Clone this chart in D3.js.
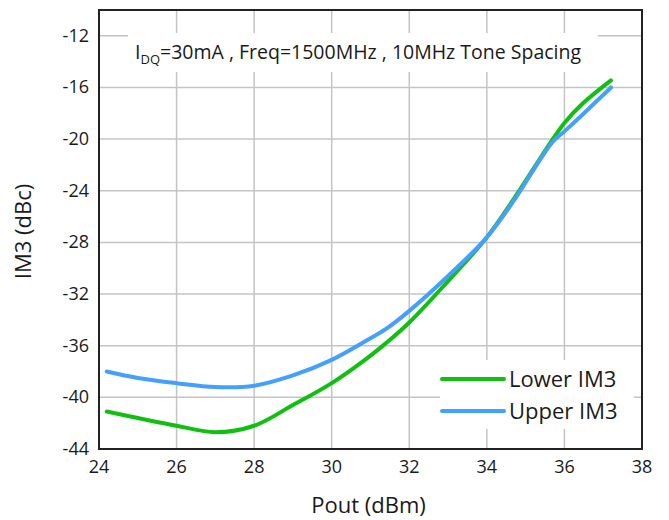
<!DOCTYPE html>
<html>
<head>
<meta charset="utf-8">
<script src="https://cdn.jsdelivr.net/npm/d3@7"></script>
<style>
	body { margin: 0; background: #fff; }
	svg { display: block; font-family: 'Open Sans', 'Noto Sans', sans-serif; }
	.grid line { stroke: #c4c4c4; stroke-width: 1.5; }
	.tick-label { font-size: 18px; fill: #1a1a1a; }
	.axis-title { font-size: 22px; fill: #1a1a1a; }
</style>
</head>
<body>
<svg id="chart" width="669" height="520"></svg>
<script>
// Pout (dBm) sample points
const pout = [24.2, 25, 26, 27, 28, 29, 30, 30.9, 31.4, 32, 33, 34, 34.7, 35.2, 35.7, 36, 36.45, 37.2];
const lowerIM3 = [-41.1, -41.6, -42.2, -42.7, -42.2, -40.6, -38.9, -37.0, -35.8, -34.2, -31.0, -27.6, -24.6, -22.3, -20.0, -18.75, -17.3, -15.45];
const upperIM3 = [-38.0, -38.5, -38.9, -39.2, -39.1, -38.3, -37.1, -35.6, -34.7, -33.3, -30.6, -27.6, -24.75, -22.4, -20.2, -19.4, -18.15, -16.0];

const xTicks = [24, 26, 28, 30, 32, 34, 36, 38];
const yTicks = [-12, -16, -20, -24, -28, -32, -36, -40, -44];

const series = [
	{ name: 'Lower IM3', color: '#10c010', values: lowerIM3 },
	{ name: 'Upper IM3', color: '#44a0ff', values: upperIM3 },
];

const svg = d3.select('#chart');
const plot = { left: 99, right: 642, top: 10, bottom: 449 };

const x = d3.scaleLinear().domain([24, 38]).range([plot.left, plot.right]);
const y = d3.scaleLinear().domain([-44, -10]).range([plot.bottom, plot.top]);

// Grid
const grid = svg.append('g').attr('class', 'grid');
grid.selectAll('line.v').data(xTicks.slice(1, -1)).enter().append('line')
	.attr('x1', d => x(d)).attr('x2', d => x(d))
	.attr('y1', plot.top).attr('y2', plot.bottom);
grid.selectAll('line.h').data(yTicks.slice(0, -1)).enter().append('line')
	.attr('x1', plot.left).attr('x2', plot.right)
	.attr('y1', d => y(d)).attr('y2', d => y(d));

// Tick labels
svg.append('g').selectAll('text').data(yTicks).enter().append('text')
	.attr('class', 'tick-label')
	.attr('x', plot.left - 10).attr('y', d => y(d) + 6)
	.attr('text-anchor', 'end')
	.text(d => d);
svg.append('g').selectAll('text').data(xTicks).enter().append('text')
	.attr('class', 'tick-label')
	.attr('x', d => x(d)).attr('y', plot.bottom + 24)
	.attr('text-anchor', 'middle')
	.text(d => d);

// Title box (hides grid behind it)
svg.append('rect').attr('x', 128).attr('y', 33).attr('width', 470).attr('height', 39).attr('fill', '#fff');
const title = svg.append('text').attr('x', 135).attr('y', 59)
	.attr('font-size', 19.5).attr('fill', '#1a1a1a');
title.append('tspan').text('I');
title.append('tspan').attr('font-size', 13).attr('dy', 5).text('DQ');
title.append('tspan').attr('dy', -5).text('=30mA , Freq=1500MHz , 10MHz Tone Spacing');

// Curves
const line = d3.line()
	.x(d => x(d[0]))
	.y(d => y(d[1]))
	.curve(d3.curveCatmullRom.alpha(0.5));

svg.append('g').selectAll('path').data(series).enter().append('path')
	.attr('d', s => line(pout.map((p, i) => [p, s.values[i]])))
	.attr('fill', 'none')
	.attr('stroke', s => s.color)
	.attr('stroke-width', 4)
	.attr('stroke-linecap', 'round')
	.attr('stroke-linejoin', 'round');

// Legend
const legend = svg.append('g');
legend.append('rect').attr('x', 440).attr('y', 360).attr('width', 194).attr('height', 69).attr('fill', '#fff');
series.forEach((s, i) => {
	const ly = 379 + i * 32;
	legend.append('line')
		.attr('x1', 442).attr('x2', 504).attr('y1', ly).attr('y2', ly)
		.attr('stroke', s.color).attr('stroke-width', 4).attr('stroke-linecap', 'round');
	legend.append('text')
		.attr('x', 509).attr('y', ly + 8)
		.attr('font-size', 22).attr('fill', '#1a1a1a')
		.text(s.name);
});

// Plot border
svg.append('rect')
	.attr('x', plot.left).attr('y', plot.top)
	.attr('width', plot.right - plot.left).attr('height', plot.bottom - plot.top)
	.attr('fill', 'none').attr('stroke', '#222').attr('stroke-width', 2);

// Axis titles
svg.append('text').attr('class', 'axis-title')
	.attr('x', (plot.left + plot.right) / 2 - 2).attr('y', 513)
	.attr('text-anchor', 'middle')
	.text('Pout (dBm)');
svg.append('text').attr('class', 'axis-title')
	.attr('transform', `translate(31, ${(plot.top + plot.bottom) / 2 + 2}) rotate(-90)`)
	.attr('text-anchor', 'middle')
	.text('IM3 (dBc)');
</script>
</body>
</html>
